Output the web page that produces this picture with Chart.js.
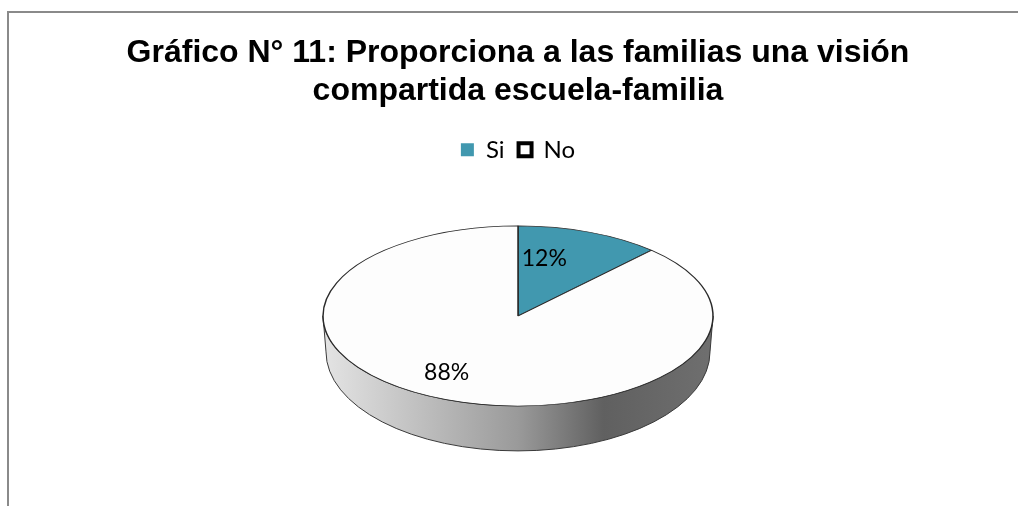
<!DOCTYPE html>
<html><head><meta charset="utf-8">
<script src="https://cdn.jsdelivr.net/npm/chart.js@4.4.1/dist/chart.umd.min.js"></script>
<style>
html,body{margin:0;padding:0;background:#fff;overflow:hidden}
#wrap{position:relative;width:1018px;height:506px}
#frame{position:absolute;left:7px;top:11px;width:1040px;height:530px;border:2px solid #8a8a8a;box-sizing:border-box;pointer-events:none}
canvas{display:block}
</style></head><body>
<div id="wrap"><canvas id="c" width="1018" height="506"></canvas><div id="frame"></div></div>
<script>
// ---- data ----
const titleLines = ['Gráfico N° 11: Proporciona a las familias una visión', 'compartida escuela-familia'];
const categories = ['Si', 'No'];
const values = [12, 88];
const percentLabels = ['12%', '88%'];
const sliceColors = ['#4198AF', '#FDFDFD'];

// ---- style ----
const STRETCH = 195 / 90;   // horizontal stretch of the tilted pie
const SIDE_DEPTH = 36;      // vertical offset of the bottom rim
const SIDE_RX_SHRINK = 3;
const SIDE_RY_GROW = 9;
const LABEL_R = 0.68;

function rgb(hex){const n=parseInt(hex.slice(1),16);return [(n>>16)&255,(n>>8)&255,n&255];}
function shade(hex,f){const c=rgb(hex).map(v=>Math.round(v*f));return `rgb(${c[0]},${c[1]},${c[2]})`;}

const pie3d = {
  id: 'pie3d',
  beforeDatasetsDraw(chart){
    const meta = chart.getDatasetMeta(0);
    const ctx = chart.ctx;
    const a0 = meta.data[0];
    const cx = a0.x, cy = a0.y, r = a0.outerRadius;
    const rx = r*STRETCH, ry = r;
    const cyB = cy + SIDE_DEPTH, rxB = rx - SIDE_RX_SHRINK, ryB = ry + SIDE_RY_GROW;
    meta.data.forEach((arc, i) => {
      const s = Math.max(arc.startAngle, 0), e = Math.min(arc.endAngle, Math.PI);
      if (e <= s) return;
      const base = sliceColors[i];
      const g = ctx.createLinearGradient(cx - rx, 0, cx + rx, 0);
      g.addColorStop(0, shade(base, 0.90));
      g.addColorStop(0.5, shade(base, 0.61));
      g.addColorStop(0.72, shade(base, 0.38));
      g.addColorStop(1, shade(base, 0.44));
      ctx.save();
      ctx.beginPath();
      ctx.ellipse(cx, cy, rx, ry, 0, s, e, false);
      ctx.lineTo(cx + rxB*Math.cos(e), cyB + ryB*Math.sin(e));
      ctx.ellipse(cx, cyB, rxB, ryB, 0, e, s, true);
      ctx.closePath();
      ctx.fillStyle = g;
      ctx.fill();
      ctx.lineWidth = 1;
      ctx.strokeStyle = '#3a3a3a';
      ctx.stroke();
      ctx.restore();
    });
    ctx.save();
    ctx.translate(cx, 0);
    ctx.scale(STRETCH, 1);
    ctx.translate(-cx, 0);
  },
  afterDatasetsDraw(chart){
    const ctx = chart.ctx;
    ctx.restore();
    const meta = chart.getDatasetMeta(0);
    ctx.save();
    ctx.font = '23px Lato';
    ctx.fillStyle = '#000';
    ctx.textAlign = 'right';
    ctx.textBaseline = 'middle';
    meta.data.forEach((arc, i) => {
      const mid = (arc.startAngle + arc.endAngle)/2;
      const px = arc.x + LABEL_R*arc.outerRadius*Math.cos(mid)*STRETCH;
      const py = arc.y + LABEL_R*arc.outerRadius*Math.sin(mid);
      ctx.fillText(percentLabels[i], px, py);
    });
    ctx.restore();
  }
};

new Chart(document.getElementById('c'), {
  type: 'pie',
  data: {
    labels: categories,
    datasets: [{
      data: values,
      backgroundColor: sliceColors,
      borderColor: '#2a2a2a',
      borderWidth: 0.7,
      radius: 90
    }]
  },
  options: {
    responsive: false,
    animation: false,
    events: [],
    layout: { padding: { left: 18, right: 0, top: 0, bottom: 46 } },
    plugins: {
      tooltip: { enabled: false },
      title: {
        display: true,
        text: titleLines,
        color: '#000',
        font: { family: 'Liberation Sans', size: 32, weight: 'bold', lineHeight: 1.2 },
        padding: { top: 34, bottom: 13 }
      },
      legend: {
        display: true,
        position: 'top',
        labels: {
          color: '#000',
          font: { family: 'Lato', size: 24 },
          boxWidth: 13,
          boxHeight: 13,
          padding: 14,
          generateLabels(chart){
            return categories.map((c, i) => ({
              text: c,
              fillStyle: i === 0 ? sliceColors[i] : '#ffffff',
              strokeStyle: i === 0 ? sliceColors[i] : '#000000',
              lineWidth: i === 0 ? 0 : 4,
              hidden: false,
              index: i
            }));
          }
        }
      }
    }
  },
  plugins: [pie3d]
});
</script>
</body></html>
